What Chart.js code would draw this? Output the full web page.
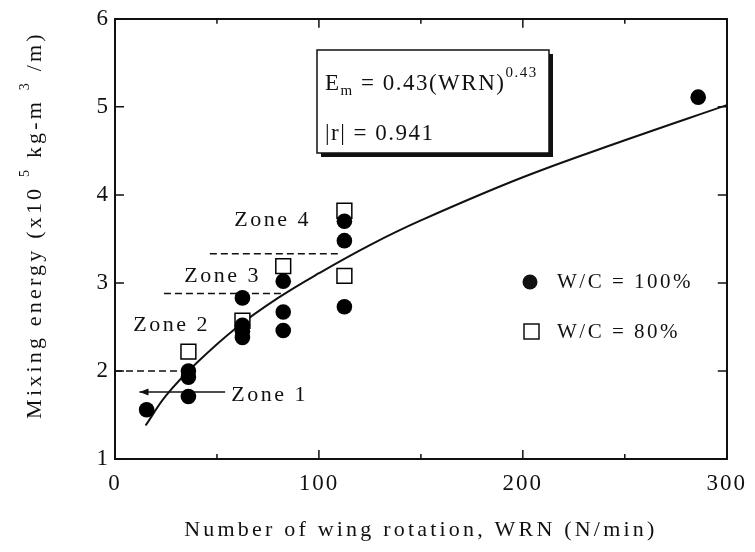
<!DOCTYPE html>
<html>
<head>
<meta charset="utf-8">
<script src="https://cdn.jsdelivr.net/npm/chart.js@4.4.1/dist/chart.umd.min.js"></script>
<style>
  html, body { margin: 0; padding: 0; background: #fff; }
  #wrap { width: 755px; height: 552px; }
</style>
</head>
<body>
<div id="wrap"><canvas id="chart" width="755" height="552"></canvas></div>
<script>
// W/C = 100% (filled circles)
const wc100X = [15.5, 36, 36, 36, 62.5, 62.5, 62.5, 62.5, 82.5, 82.5, 82.5, 112.5, 112.5, 112.5, 286];
const wc100Y = [1.56, 1.71, 1.93, 2.00, 2.38, 2.45, 2.52, 2.83, 2.46, 2.67, 3.02, 2.73, 3.48, 3.70, 5.11];
// W/C = 80% (open squares)
const wc80X = [36, 62.5, 82.5, 112.5, 112.5];
const wc80Y = [2.22, 2.57, 3.19, 3.08, 3.82];
// fitted curve
const fitX = [15, 25, 40, 60, 80, 100, 125, 150, 200, 250, 300];
const fitY = [1.38, 1.72, 2.09, 2.50, 2.83, 3.11, 3.43, 3.71, 4.20, 4.62, 5.02];
// dashed zone limits and the zone 1 arrow
const zoneLineY = [2.00, 2.88, 3.33];
const zoneLineFrom = [0, 24, 46.5];
const zoneLineTo = [34, 83, 111];
const arrowY = 1.76, arrowFrom = 54, arrowTo = 12;
const zoneNames = ["Zone 1", "Zone 2", "Zone 3", "Zone 4"];
const zoneLabelX = [57, 9, 34, 58.5];
const zoneLabelY = [1.72, 2.52, 3.08, 3.71];
// axes
const xTickLabels = [0, 100, 200, 300];
const yTickLabels = [1, 2, 3, 4, 5, 6];

const FONT = "'Liberation Serif', 'Times New Roman', serif";
const INK = "#111";

function pts(xs, ys) {
    return xs.map((x, i) => ({ x: x, y: ys[i] }));
}

// text in pieces, for sub/superscripts: [text, size, dy]
function runsWidth(ctx, runs, spacing) {
    let w = 0;
    runs.forEach(r => {
        ctx.font = r[1] + "px " + FONT;
        ctx.letterSpacing = spacing + "px";
        w += ctx.measureText(r[0]).width;
    });
    return w;
}
function drawRuns(ctx, runs, x, y, spacing) {
    runs.forEach(r => {
        ctx.font = r[1] + "px " + FONT;
        ctx.letterSpacing = spacing + "px";
        ctx.fillText(r[0], x, y + r[2]);
        x += ctx.measureText(r[0]).width;
    });
}

const spacingPlugin = {
    id: "spacing",
    beforeDraw(chart) {
        chart.ctx.letterSpacing = "2px";
    }
};

// inward tick marks on all four sides
const tickMarks = {
    id: "tickMarks",
    afterDraw(chart) {
        const ctx = chart.ctx, a = chart.chartArea;
        const sx = chart.scales.x, sy = chart.scales.y;
        ctx.save();
        ctx.strokeStyle = INK;
        ctx.lineWidth = 1.5;
        ctx.beginPath();
        sx.ticks.forEach(t => {
            const px = sx.getPixelForValue(t.value);
            const len = xTickLabels.includes(t.value) ? 9 : 5;
            ctx.moveTo(px, a.bottom); ctx.lineTo(px, a.bottom - len);
            ctx.moveTo(px, a.top); ctx.lineTo(px, a.top + len);
        });
        sy.ticks.forEach(t => {
            const py = sy.getPixelForValue(t.value);
            ctx.moveTo(a.left, py); ctx.lineTo(a.left + 9, py);
            ctx.moveTo(a.right, py); ctx.lineTo(a.right - 9, py);
        });
        ctx.stroke();
        ctx.restore();
    }
};

const annotations = {
    id: "annotations",
    afterDraw(chart) {
        const ctx = chart.ctx, a = chart.chartArea;
        const sx = chart.scales.x, sy = chart.scales.y;
        ctx.save();
        ctx.fillStyle = INK;
        ctx.strokeStyle = INK;

        // arrow head of zone 1
        const hx = sx.getPixelForValue(arrowTo), hy = sy.getPixelForValue(arrowY);
        ctx.lineWidth = 1.5;
        ctx.beginPath();
        ctx.moveTo(hx + 9, hy - 3.5);
        ctx.lineTo(hx, hy);
        ctx.lineTo(hx + 9, hy + 3.5);
        ctx.closePath();
        ctx.fill();

        // zone labels
        ctx.textBaseline = "middle";
        ctx.textAlign = "left";
        ctx.font = "22px " + FONT;
        ctx.letterSpacing = "2.5px";
        zoneNames.forEach((n, i) => {
            ctx.fillText(n, sx.getPixelForValue(zoneLabelX[i]), sy.getPixelForValue(zoneLabelY[i]));
        });

        // equation box
        const bx = 317, by = 50, bw = 232, bh = 103;
        ctx.fillRect(bx + 4, by + 4, bw, bh);
        ctx.fillStyle = "#fff";
        ctx.fillRect(bx, by, bw, bh);
        ctx.lineWidth = 1.5;
        ctx.strokeRect(bx, by, bw, bh);
        ctx.fillStyle = INK;
        ctx.textBaseline = "alphabetic";
        drawRuns(ctx, [["E", 23, 0], ["m", 15, 5], [" = 0.43(WRN)", 23, 0], ["0.43", 15, -13]], bx + 8, by + 40, 1.5);
        drawRuns(ctx, [["|r| = 0.941", 23, 0]], bx + 8, by + 90, 1.5);

        // legend
        ctx.beginPath();
        ctx.arc(530, 282, 7.5, 0, Math.PI * 2);
        ctx.fill();
        ctx.fillStyle = "#fff";
        ctx.fillRect(524, 324, 15, 15);
        ctx.strokeRect(524, 324, 15, 15);
        ctx.fillStyle = INK;
        ctx.textBaseline = "middle";
        ctx.font = "21px " + FONT;
        ctx.letterSpacing = "2.5px";
        ctx.fillText("W/C = 100%", 557, 282);
        ctx.fillText("W/C = 80%", 557, 332);

        // axis titles
        ctx.textAlign = "center";
        ctx.font = "22px " + FONT;
        ctx.letterSpacing = "3.2px";
        ctx.fillText("Number of wing rotation, WRN (N/min)", (a.left + a.right) / 2, 530);

        const yRuns = [["Mixing energy (x10 ", 22, 0], ["5", 14, -10], [" kg-m ", 22, 0], ["3", 14, -10], [" /m)", 22, 0]];
        ctx.textAlign = "left";
        ctx.textBaseline = "middle";
        ctx.translate(35, 225);
        ctx.rotate(-Math.PI / 2);
        const w = runsWidth(ctx, yRuns, 3.2);
        drawRuns(ctx, yRuns, -w / 2, 0, 3.2);
        ctx.restore();
    }
};

const datasets = [
    {
        label: "W/C = 100%",
        data: pts(wc100X, wc100Y),
        pointStyle: "circle",
        pointRadius: 7.8,
        backgroundColor: "#000",
        borderColor: "#000",
        borderWidth: 0,
        order: 0
    },
    {
        label: "W/C = 80%",
        data: pts(wc80X, wc80Y),
        pointStyle: "rect",
        pointRadius: 10.5,
        backgroundColor: "#fff",
        borderColor: "#000",
        borderWidth: 1.5,
        order: 1
    },
    {
        label: "fit",
        data: pts(fitX, fitY),
        showLine: true,
        pointRadius: 0,
        borderColor: INK,
        borderWidth: 2,
        tension: 0.4,
        order: 2
    },
    {
        label: "arrow",
        data: [{ x: arrowFrom, y: arrowY }, { x: arrowTo, y: arrowY }],
        showLine: true,
        pointRadius: 0,
        borderColor: INK,
        borderWidth: 1.5,
        order: 3
    }
];
zoneLineY.forEach((y, i) => {
    datasets.push({
        label: "limit " + (i + 2),
        data: [{ x: zoneLineFrom[i], y: y }, { x: zoneLineTo[i], y: y }],
        showLine: true,
        pointRadius: 0,
        borderColor: INK,
        borderWidth: 1.5,
        borderDash: [7, 4],
        order: 3
    });
});

const noGrid = { display: false, drawTicks: false };
const frame = { display: true, color: INK, width: 2 };

new Chart(document.getElementById("chart").getContext("2d"), {
    type: "scatter",
    data: { datasets: datasets },
    options: {
        responsive: false,
        animation: false,
        events: [],
        layout: { padding: { left: 0, right: 22, top: 17, bottom: 0 } },
        plugins: { legend: { display: false }, tooltip: { enabled: false } },
        scales: {
            x: {
                type: "linear", position: "bottom", min: 0, max: 300,
                grid: noGrid, border: frame,
                ticks: {
                    stepSize: 50, autoSkip: false, maxRotation: 0, padding: 11,
                    color: INK, font: { family: FONT, size: 23 },
                    callback: v => xTickLabels.includes(v) ? String(v) : ""
                },
                afterFit: s => { s.height = 93; }
            },
            y: {
                type: "linear", position: "left", min: 1, max: 6,
                grid: noGrid, border: frame,
                ticks: {
                    stepSize: 1, padding: 5,
                    color: INK, font: { family: FONT, size: 23 },
                    callback: v => yTickLabels.includes(v) ? String(v) : ""
                },
                afterFit: s => { s.width = 115; }
            },
            x2: {
                type: "linear", position: "top", min: 0, max: 300,
                grid: noGrid, border: frame, ticks: { display: false },
                afterFit: s => { s.height = 0; }
            },
            y2: {
                type: "linear", position: "right", min: 1, max: 6,
                grid: noGrid, border: frame, ticks: { display: false },
                afterFit: s => { s.width = 0; }
            }
        }
    },
    plugins: [spacingPlugin, tickMarks, annotations]
});
</script>
</body>
</html>
